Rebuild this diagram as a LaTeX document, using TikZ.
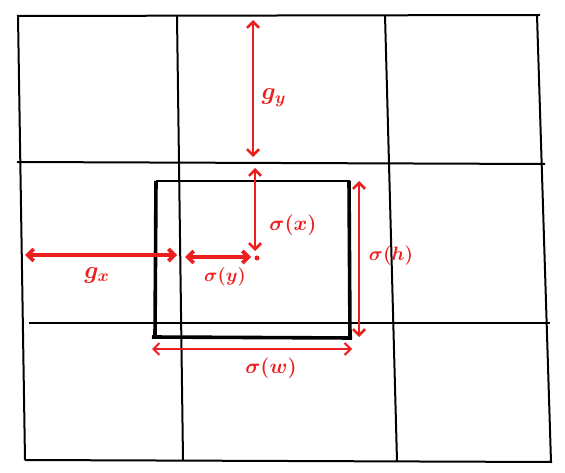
\documentclass[tikz,border=0pt]{standalone}
\usepackage{graphicx}
\usepackage{xcolor}
\usepackage{tikz}
\usetikzlibrary{arrows.meta,positioning}
\definecolor{penred}{RGB}{236,30,30}
\newcommand{\penlbl}[2][1.45]{\scalebox{#1}{\boldmath$#2$}}

\begin{document}
\begin{tikzpicture}[
    x=1pt, y=-1pt,
    gridline/.style={black, line width=2pt},
    boxline/.style={black, line width=3.6pt},
    dim/.style={penred, line width=2.6pt, {Straight Barb[length=6pt,width=12pt]}-{Straight Barb[length=6pt,width=12pt]}},
    fatdim/.style={dim, line width=3.8pt},
    thindim/.style={dim, line width=2pt},
    lbl/.style={text=penred, font=\Large, inner sep=0pt}
]
\useasboundingbox (0,0) rectangle (565,473);

% gitter 3x3
\draw[gridline] (17,16) -- (540,15);
\draw[gridline] (17,162) -- (545,164);
\draw[gridline] (29,323) -- (550,323);
\draw[gridline] (25,460) -- (552,462);
\draw[gridline] (18,16) -- (25,460);
\draw[gridline] (177,16) -- (183,460);
\draw[gridline] (385,15) -- (397,461);
\draw[gridline] (537,15) -- (551,462);

% anker-box
\draw[gridline] (156,181) -- (350,181);
\draw[boxline] (156,181) -- (155,337);
\draw[boxline] (349,181) -- (350,338);
\draw[boxline] (152,337) -- (352,338);

% mittelpunkt und endpunkte
\node[circle, fill=penred, inner sep=0pt, minimum size=5pt] (ctr) at (257,258) {};
\coordinate (gyTop) at (253,20);
\coordinate (gyBot) at (253,157);
\coordinate (sxTop) at (255,168);
\coordinate (sxBot) at (255,251);
\coordinate (gxL) at (25,255);
\coordinate (gxR) at (177,255);
\coordinate (syL) at (185,257);
\coordinate (syR) at (251,257);
\coordinate (hTop) at (359,181);
\coordinate (hBot) at (359,337);
\coordinate (wL) at (152,349);
\coordinate (wR) at (352,349);

% pfeile
\draw[dim] (gyTop) -- (gyBot);
\draw[dim] (sxTop) -- (sxBot);
\draw[fatdim] (gxL) -- (gxR);
\draw[fatdim] (syL) -- (syR);
\draw[dim] (hTop) -- (hBot);
\draw[thindim] (wL) -- (wR);

% beschriftung
\node[lbl] (gy) at (274,98) {\penlbl[1.7]{g_y}};
\node[lbl] (sx) at (293,225) {\penlbl{\sigma(x)}};
\node[lbl] (gx) at (97,275) {\penlbl[1.7]{g_x}};
\node[lbl] (sy) at (225,277) {\penlbl[1.3]{\sigma(y)}};
\node[lbl] (sh) at (391,256) {\penlbl[1.35]{\sigma(h)}};
\node[lbl] (sw) at (271,368) {\penlbl{\sigma(w)}};

\end{tikzpicture}
\end{document}
